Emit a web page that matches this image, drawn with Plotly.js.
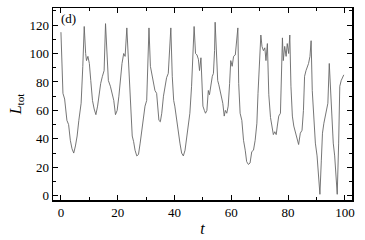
<!DOCTYPE html>
<html>
<head>
<meta charset="utf-8">
<script src="https://cdn.plot.ly/plotly-3.0.1.min.js"></script>
<style>
  html, body { margin: 0; padding: 0; background: #fff; }
  #chart { width: 365px; height: 240px; }
</style>
</head>
<body>
<div id="chart"></div>
<script>
// time values
var time = [
  0, 0.7, 1.3, 2.1, 2.7, 3.3, 3.9, 4.5, 5.1, 5.7, 6.3, 7.1, 7.7, 8.2, 8.7, 9.0, 9.5, 10, 10.5, 11.1,
  11.7, 12.3, 12.9, 13.5, 14, 14.6, 15.2, 15.7, 16.2, 16.7, 17.4, 17.9, 18.6, 19.2, 19.8, 20.4, 21, 21.5, 22.1, 22.6,
  23.2, 23.7, 24.1, 24.6, 25.1, 25.6, 26.1, 26.7, 27.3, 27.9, 28.4, 29, 29.6, 30.2, 30.5, 31, 31.5, 32, 32.5, 33.1,
  33.7, 34.1, 34.5, 35, 35.5, 36.1, 36.6, 37.2, 37.8, 38.3, 38.7, 39.2, 39.7, 40.1, 40.7, 41.3, 41.9, 42.5, 43.1, 43.7,
  44.2, 44.8, 45.4, 46, 46.5, 46.9, 47.4, 47.9, 48.4, 48.8, 49.3, 49.7, 50, 50.5, 50.9, 51.4, 51.9, 52.3, 52.8, 53.3,
  53.7, 54.1, 54.3, 54.7, 55.2, 55.6, 56.1, 56.6, 57, 57.5, 57.9, 58.4, 58.9, 59.4, 59.8, 60.3, 60.8, 61.4, 61.9, 62.3,
  62.6, 63.1, 63.7, 64.3, 64.9, 65.4, 66, 66.6, 67.2, 67.8, 68.4, 69, 69.4, 69.9, 70.4, 70.8, 71.3, 71.8, 72.2, 72.7,
  73.2, 73.8, 74.4, 74.8, 75.3, 75.8, 76.2, 76.7, 77.3, 77.6, 78, 78.3, 78.8, 79.3, 79.7, 80.2, 80.6, 81, 81.5, 82,
  82.6, 83.1, 83.7, 84.3, 84.9, 85.4, 85.8, 86.3, 86.8, 87.2, 87.7, 88.1, 88.5, 89, 89.6, 90.2, 90.7, 91.2, 91.7, 92.1,
  92.6, 93.1, 93.6, 94, 94.5, 95, 95.4, 95.9, 96.4, 96.8, 97.3, 97.8, 98.2, 98.7, 99.2, 99.6
];
var lTot = [
  115, 72, 68, 53, 50, 39, 33, 30, 35, 42, 53, 65, 91, 119, 100, 95, 98, 93, 81, 67,
  61, 57, 63, 74, 79, 84, 88, 121, 95, 81, 77, 72, 67, 57, 60, 70, 84, 93, 100, 98,
  118, 95, 77, 58, 42, 38, 32, 28, 29, 37, 46, 56, 63, 67, 95, 118, 91, 86, 80, 74,
  72, 58, 53, 52, 58, 70, 77, 83, 86, 102, 118, 84, 67, 63, 53, 46, 37, 30, 28, 32,
  40, 49, 58, 77, 107, 119, 100, 99, 96, 88, 97, 79, 63, 60, 58, 60, 74, 71, 79, 84,
  86, 102, 122, 100, 81, 78, 74, 70, 65, 56, 60, 58, 63, 79, 95, 91, 98, 99, 109, 118,
  79, 58, 53, 39, 32, 24, 22, 23, 31, 32, 39, 51, 72, 98, 113, 105, 102, 104, 95, 107,
  71, 55, 47, 43, 45, 43, 49, 56, 58, 84, 111, 95, 105, 98, 107, 100, 113, 77, 56, 49,
  44, 40, 36, 44, 46, 60, 84, 88, 91, 93, 98, 109, 74, 56, 37, 28, 14, 1, 25, 44,
  51, 56, 63, 65, 93, 70, 51, 37, 28, 18, 1, 37, 77, 81, 84, 85
];
var panelLabel = '(d)';

var trace = {
  x: time,
  y: lTot,
  type: 'scatter',
  mode: 'lines',
  line: {color: '#666666', width: 0.9},
  hoverinfo: 'skip'
};

var serif = 'Liberation Serif';
var axisFont = {family: serif, size: 13, color: '#000'};

var layout = {
  width: 365,
  height: 240,
  margin: {l: 53, r: 13, t: 8, b: 40},
  paper_bgcolor: '#fff',
  plot_bgcolor: '#fff',
  showlegend: false,
  font: axisFont,
  xaxis: {
    range: [-2.8, 102.5],
    tick0: 0,
    dtick: 20,
    ticks: 'inside',
    ticklen: 5,
    tickwidth: 1,
    tickcolor: '#000',
    minor: {dtick: 10, ticks: 'inside', ticklen: 3, tickcolor: '#000'},
    showline: true,
    linecolor: '#000',
    linewidth: 1.5,
    mirror: 'ticks',
    showgrid: false,
    zeroline: false,
    tickfont: axisFont,
    title: {text: '<i>t</i>', font: {family: serif, size: 16, color: '#000'}, standoff: 3}
  },
  yaxis: {
    range: [-3, 132],
    tick0: 0,
    dtick: 20,
    ticks: 'inside',
    ticklen: 5,
    tickwidth: 1,
    tickcolor: '#000',
    minor: {dtick: 10, ticks: 'inside', ticklen: 3, tickcolor: '#000'},
    showline: true,
    linecolor: '#000',
    linewidth: 1.5,
    mirror: 'ticks',
    showgrid: false,
    zeroline: false,
    tickfont: axisFont,
    title: {text: '<i>L</i><sub>tot</sub>', font: {family: serif, size: 16, color: '#000'}, standoff: 4}
  },
  annotations: [{
    text: panelLabel,
    xref: 'paper', yref: 'paper',
    x: 0.02, y: 0.995,
    xanchor: 'left', yanchor: 'top',
    showarrow: false,
    font: {family: serif, size: 13, color: '#000'}
  }]
};

Plotly.newPlot('chart', [trace], layout, {displayModeBar: false, staticPlot: true});
</script>
</body>
</html>
